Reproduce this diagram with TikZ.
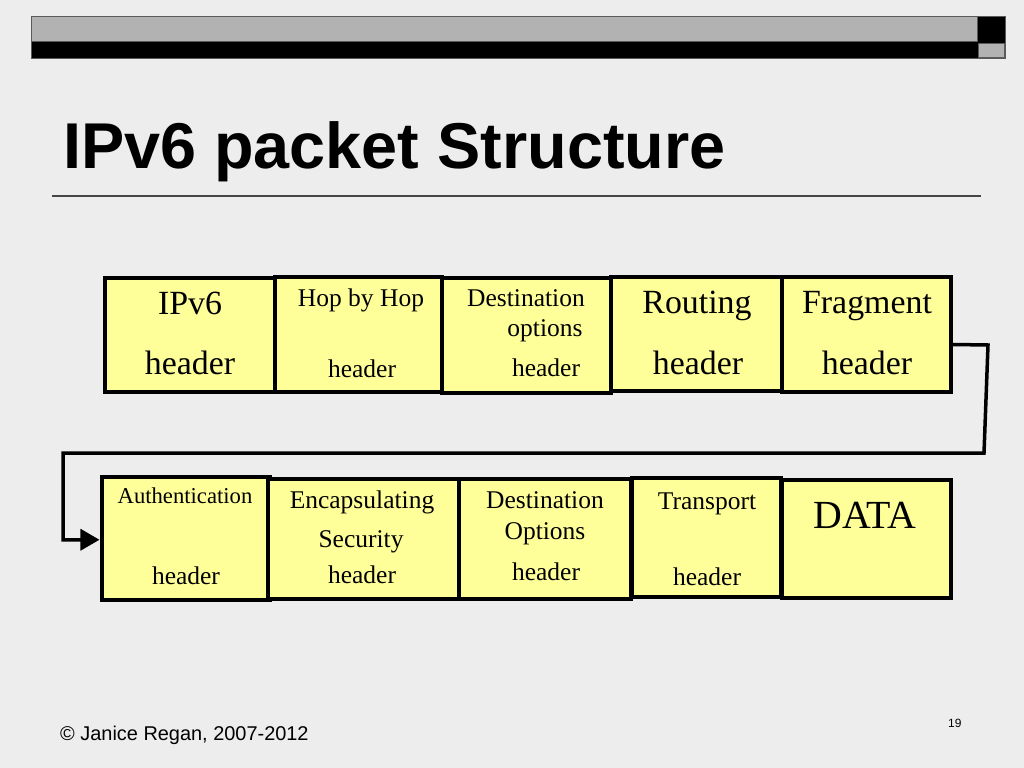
\documentclass[tikz,border=0pt]{standalone}
\usepackage{fontspec}
\setmainfont{Liberation Serif}
\newfontfamily\arialf{Liberation Sans}
\usetikzlibrary{arrows.meta}
\definecolor{bgc}{RGB}{237,237,237}
\definecolor{barg}{RGB}{178,178,178}
\definecolor{bard}{RGB}{90,90,90}
\definecolor{boxy}{RGB}{255,255,153}
\definecolor{rulec}{RGB}{70,70,70}
\begin{document}
\begin{tikzpicture}[x=1bp,y=-1bp,
  pbox/.style={rectangle, draw=black, fill=boxy, line width=4bp, inner sep=0pt},
  lbl/.style={anchor=base, inner sep=0pt, text=black},
  t16/.style={lbl, font=\fontsize{22.75}{26}\selectfont},
  t18/.style={lbl, font=\fontsize{25.6}{29}\selectfont},
  t24/.style={lbl, font=\fontsize{34}{38}\selectfont},
  t28/.style={lbl, font=\fontsize{40}{44}\selectfont},
  conn/.style={draw=black, line width=3.5bp, line join=miter, -{Triangle[length=19bp,width=21bp]}}
]
\fill[bgc] (0,0) rectangle (1024,768);
\useasboundingbox (0,0) rectangle (1024,768);

% top bar
\fill[black] (31,16) rectangle (1005,58.5);
\filldraw[fill=barg, draw=bard, line width=0.8bp] (31,16) rectangle (977.5,41.5);
\filldraw[fill=barg, draw=bard, line width=0.8bp] (978.5,43) rectangle (1004.5,57.5);
\draw[bard, line width=0.8bp] (31,16) rectangle (1005,58.5);

% title
\node[anchor=base west, inner sep=0pt, font=\arialf\bfseries\fontsize{65}{72}\selectfont] (title) at (63,168) {IPv6 packet Structure};
\draw[rulec, line width=1.5bp] (52,196) -- (981,196);

% row 1 boxes
\node[pbox, minimum width=170bp, minimum height=114bp] (b1) at (190,334.5) {};
\node[pbox, minimum width=167bp, minimum height=115bp] (b2) at (358.5,334) {};
\node[pbox, minimum width=169bp, minimum height=115bp] (b3) at (526.5,335) {};
\node[pbox, minimum width=171bp, minimum height=114bp] (b4) at (696.5,334) {};
\node[pbox, minimum width=169bp, minimum height=115bp] (b5) at (866.5,334) {};

\node[t24] (b1t1) at (190,314) {IPv6};
\node[t24] (b1t2) at (190,374) {header};
\node[t18] (b2t1) at (361,306) {Hop by Hop};
\node[t18] (b2t2) at (362,377) {header};
\node[t18] (b3t1) at (526,306) {Destination};
\node[t18] (b3t2) at (545,336) {options};
\node[t18] (b3t3) at (546,376) {header};
\node[t24] (b4t1) at (697,313) {Routing};
\node[t24] (b4t2) at (698,374) {header};
\node[t24] (b5t1) at (867,313) {Fragment};
\node[t24] (b5t2) at (867,374) {header};

% row 2 boxes
\node[pbox, minimum width=168.5bp, minimum height=123.5bp] (a1) at (185.75,538.25) {};
\node[pbox, minimum width=191bp, minimum height=120bp] (a2) at (363,538.5) {};
\node[pbox, minimum width=172bp, minimum height=120bp] (a3) at (545,539) {};
\node[pbox, minimum width=149bp, minimum height=119bp] (a4) at (706.5,537.5) {};
\node[pbox, minimum width=169bp, minimum height=118bp] (a5) at (866.5,538.5) {};

\node[t16] (a1t1) at (185,503) {Authentication};
\node[t18] (a1t2) at (186,584) {header};
\node[t18] (a2t1) at (362,508) {Encapsulating};
\node[t18] (a2t2) at (361,547) {Security};
\node[t18] (a2t3) at (362,583) {header};
\node[t18] (a3t1) at (545,508) {Destination};
\node[t18] (a3t2) at (545,539) {Options};
\node[t18] (a3t3) at (546,580) {header};
\node[t18] (a4t1) at (707,509) {Transport};
\node[t18] (a4t2) at (707,585) {header};
\node[t28] (a5t1) at (865,528) {DATA};

% connector
\coordinate (c0) at (988,345);
\coordinate (c1) at (984,453);
\coordinate (c2) at (63,453);
\draw[conn] ([yshift=-10.5bp]b5.east) -- (c0) -- (c1) -- (c2) |- ([yshift=-1.5bp]a1.west);

% footer
\node[anchor=base west, inner sep=0pt, font=\arialf\fontsize{20}{24}\selectfont] (foot) at (60,740) {© Janice Regan, 2007-2012};
\node[anchor=base west, inner sep=0pt, font=\arialf\fontsize{12}{14}\selectfont] (pg) at (948,727) {19};
\end{tikzpicture}
\end{document}
